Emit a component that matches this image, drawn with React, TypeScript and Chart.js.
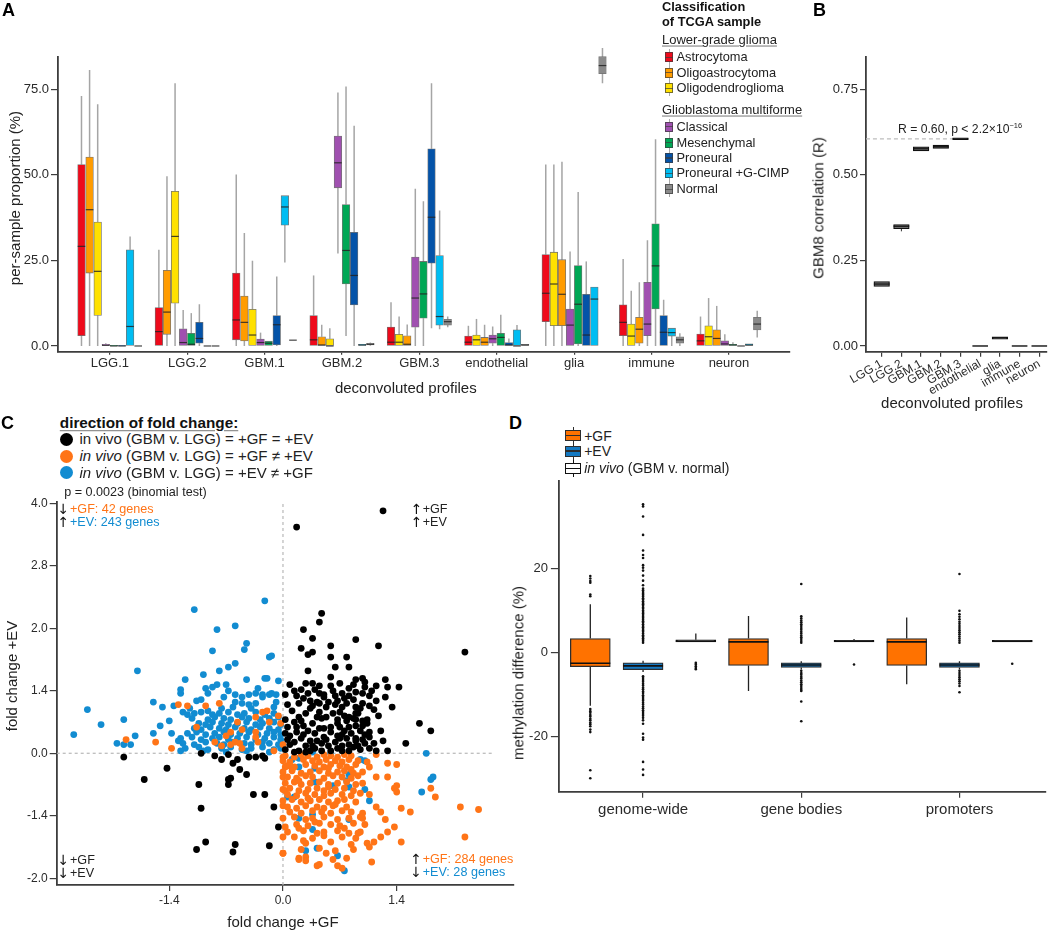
import React, { useEffect, useRef } from "react";
import { Chart, registerables } from "chart.js";

Chart.register(...registerables);

const FONT = "'Liberation Sans', Arial, Helvetica, sans-serif";
Chart.defaults.font.family = FONT;
Chart.defaults.color = "#2a2a2a";

// ---------------- Panel A : per-sample proportion ----------------
const profileLabels = ["LGG.1", "LGG.2", "GBM.1", "GBM.2", "GBM.3", "endothelial", "glia", "immune", "neuron"];
const aTickValues = [0, 25, 50, 75];
const classNames = ["Astrocytoma", "Oligoastrocytoma", "Oligodendroglioma", "Classical", "Mesenchymal", "Proneural", "Proneural +G-CIMP", "Normal"];
const classColors = ["#EE0A1B", "#FF9C00", "#FFE100", "#A050B0", "#00A755", "#0453A8", "#00BDF2", "#8A8A8A"];
// each row: [lower whisker, Q1, median, Q3, upper whisker] for one profile
const astrocytoma = [[0, 3.0, 29.1, 53.0, 73.0], [0, 0, 4.2, 11.2, 28.1], [0, 1.8, 7.6, 21.3, 50.1], [0, 0, 1.8, 8.9, 20.6], [0, 0, 1.1, 5.5, 12.8], [0, 0, 1.1, 2.9, 5.9], [0, 7.1, 15.4, 26.7, 53.0], [0, 3.0, 6.9, 12.0, 25.4], [0, 0, 1.5, 3.5, 8.6]];
const oligoastrocytoma = [[0, 21.3, 39.8, 55.2, 80.6], [0, 3.4, 9.9, 22.1, 49.6], [0, 1.5, 6.9, 14.6, 33.0], [0, 0, 0.3, 2.7, 6.2], [0, 0, 0.5, 3.0, 6.3], [0, 0, 1.1, 2.5, 6.2], [0, 5.9, 15.1, 25.2, 53.8], [0, 0.8, 4.9, 8.4, 18.6], [0, 0, 2.2, 4.7, 11.7]];
const oligodendroglioma = [[0, 8.9, 21.8, 36.2, 70.6], [0, 12.5, 32.0, 45.2, 76.7], [0, 0, 3.2, 10.7, 24.9], [0, 0, 0, 2.1, 5.2], [0, 0, 1.1, 3.4, 8.6], [0, 0, 1.8, 3.2, 7.9], [0, 5.9, 18.1, 27.4, 53.0], [0, 0, 2.9, 6.4, 16.1], [0, 0, 2.7, 5.9, 14.0]];
const classical = [[0, 0, 0.2, 0.5, 0.8], [0, 0, 1.0, 5.0, 10.5], [0, 0, 1.0, 2.0, 3.9], [27.0, 46.2, 53.5, 61.3, 74.0], [0, 5.5, 14.0, 26.0, 45.9], [0, 0.8, 2.1, 3.2, 5.7], [0, 0, 6.1, 10.8, 27.6], [0, 3.0, 6.4, 18.6, 30.9], [0, 0, 0.6, 1.5, 3.4]];
const mesenchymal = [[0, 0, 0, 0.1, 0.1], [0, 0, 0.5, 3.7, 9.6], [0, 0, 0.8, 1.4, 1.4], [2.9, 18.1, 27.9, 41.3, 75.8], [0, 8.1, 15.2, 24.7, 42.3], [0, 0, 2.5, 3.7, 9.1], [0, 0.6, 12.2, 23.5, 45.0], [0, 10.8, 23.4, 35.7, 60.4], [0, 0, 0.3, 0.5, 1.1]];
const proneural = [[0, 0, 0, 0.2, 0.2], [0, 0.8, 2.2, 6.9, 12.2], [0, 0.3, 6.2, 8.9, 20.3], [0, 12.0, 20.6, 33.2, 64.3], [5.2, 24.2, 37.6, 57.6, 76.7], [0, 0, 0.3, 1.0, 2.2], [0, 0, 3.2, 15.1, 24.7], [0, 0, 4.0, 8.9, 13.5], [0, 0, 0, 0, 0]];
const proneuralGcimp = [[0, 0, 5.7, 28.1, 32.0], [0, 0, 0, 0, 0], [24.4, 35.3, 40.6, 43.9, 43.9], [0, 0, 0.3, 0.5, 0.5], [4.9, 6.1, 8.6, 26.4, 39.6], [0, 0, 0, 4.7, 6.1], [0, 0, 13.7, 17.2, 17.2], [0, 2.9, 3.9, 5.2, 5.2], [0, 0, 0.3, 0.6, 0.6]];
const normalTissue = [[0, 0, 0, 0, 0], [0, 0, 0, 0, 0], [1.7, 1.7, 1.7, 1.7, 1.7], [0.1, 0.3, 0.5, 0.8, 1.0], [5.5, 6.1, 7.1, 7.8, 8.6], [0.2, 0.2, 0.3, 0.5, 0.5], [76.7, 79.5, 81.9, 84.5, 87.0], [0, 0.8, 1.8, 2.7, 3.7], [2.5, 4.7, 6.4, 8.4, 10.3]];
const classStats = [astrocytoma, oligoastrocytoma, oligodendroglioma, classical, mesenchymal, proneural, proneuralGcimp, normalTissue];
// in these profiles the oligodendroglioma box is drawn before the oligoastrocytoma box
const oligoOrderSwapped = [false, false, false, false, true, true, true, true, true];

// ---------------- Panel B : GBM8 correlation ----------------
const gbm8Correlation = [[0.174, 0.174, 0.181, 0.188, 0.188], [0.335, 0.343, 0.35, 0.355, 0.355], [0.57, 0.57, 0.576, 0.582, 0.582], [0.577, 0.577, 0.582, 0.587, 0.587], [0.603, 0.603, 0.605, 0.608, 0.608], [0, 0, 0, 0, 0], [0.02, 0.02, 0.024, 0.027, 0.027], [0, 0, 0, 0, 0], [0, 0, 0, 0, 0]];
const bTickValues = [0, 0.25, 0.5, 0.75];
const gbm8Overall = 0.605;

// ---------------- Panel C : fold change scatter (log2 units) ----------------
const cYTickValues = [-1, -0.5, 0, 0.5, 1, 1.5, 2];
const cYTickLabels = ["-2.0", "-1.4", "0.0", "1.4", "2.0", "2.8", "4.0"];
const cXTickValues = [-0.5, 0, 0.5];
const cXTickLabels = ["-1.4", "0.0", "1.4"];

const concordant = [
  [0.44, 1.94], [0.06, 1.81], [0.17, 1.12], [0.16, 1.05], [0.09, 0.99], [0.13, 0.92], [0.32, 0.91], [0.42, 0.86], [0.08, 0.84], [0.21, 0.86], [0.11, 0.79], [0.13, 0.81], [0.8, 0.81], [0.21, 0.77], [0.28, 0.77], [0.23, 0.69], [0.29, 0.69], [0.11, 0.66], [0.32, 0.59], [0.45, 0.59], [0.21, 0.61], [0.35, 0.6],
  [0.05, 0.5], [0.08, 0.51], [0.13, 0.56], [0.16, 0.54], [0.16, 0.48], [0.18, 0.45], [0.15, 0.41], [0.12, 0.42], [0.19, 0.37], [0.1, 0.32], [0.07, 0.29], [0.05, 0.25], [0.02, 0.21], [0.03, 0.14], [0.05, 0.09], [0.07, 0.02], [0.1, 0.06], [0.12, 0.1], [0.11, 0.18], [0.13, 0.24], [0.15, 0.29], [0.16, 0.33], [0.19, 0.29], [0.22, 0.32], [0.25, 0.33], [0.27, 0.3], [0.29, 0.29], [0.32, 0.32], [0.35, 0.26], [0.34, 0.18], [0.32, 0.12], [0.31, 0.05], [0.29, 0.02], [0.26, 0.06], [0.23, 0.09], [0.2, 0.06], [0.18, 0.13], [0.18, 0.2], [0.21, 0.21], [0.24, 0.24], [0.27, 0.18], [0.29, 0.21], [0.32, 0.22], [0.24, 0.14], [0.28, 0.12], [0.21, 0.02], [0.17, 0.02], [0.14, 0.04], [0.1, 0.01], [0.05, 0.01], [0.36, 0.08], [0.38, 0.04], [0.39, 0.5], [0.41, 0.42], [0.45, 0.45], [0.48, 0.37], [0.51, 0.53], [0.46, 0.53], [0.36, 0.57], [0.32, 0.49], [0.29, 0.52], [0.26, 0.48], [0.23, 0.46], [0.38, 0.13], [0.44, 0.1], [0.46, 0.02], [0.54, 0.08], [0.6, 0.24], [0.65, 0.18], [0.24, 0.42], [0.28, 0.4], [0.32, 0.37], [0.36, 0.53], [0.37, 0.24], [0.38, 0.17], [0.33, 0.32], [0.32, 0.27],
  [0.03, 0.55], [0.1, 0.56], [0.21, 0.54], [0.25, 0.56], [0.31, 0.55], [0.41, 0.54], [0.01, 0.47], [0.06, 0.46], [0.11, 0.48], [0.18, 0.47], [0.29, 0.46], [0.35, 0.48], [0.38, 0.46], [0.02, 0.39], [0.07, 0.4], [0.13, 0.38], [0.16, 0.4], [0.23, 0.39], [0.26, 0.37], [0.35, 0.4], [0.38, 0.38],
  [0.01, 0.27], [0.08, 0.26], [0.17, 0.28], [0.24, 0.27], [0.28, 0.26], [0.31, 0.28], [0.37, 0.27], [0.06, 0.21], [0.09, 0.22], [0.16, 0.2], [0.25, 0.21], [0.35, 0.22], [0.01, 0.16], [0.06, 0.17], [0.09, 0.15], [0.14, 0.16], [0.21, 0.17], [0.26, 0.15], [0.3, 0.16], [0.36, 0.15],
  [0.02, 0.11], [0.08, 0.12], [0.15, 0.1], [0.19, 0.11], [0.25, 0.12], [0.32, 0.1], [0.35, 0.11], [0.03, 0.07], [0.13, 0.06], [0.17, 0.08], [0.29, 0.07], [0.33, 0.06], [0.01, 0.03], [0.12, 0.02], [0.24, 0.04], [0.26, 0.02], [0.34, 0.03], [0.41, 0.02],
  [0.04, 0.34], [0.12, 0.36], [0.2, 0.41], [0.27, 0.44], [0.34, 0.36], [0.42, 0.3], [0.09, 0.44], [0.14, 0.51], [0.22, 0.5], [0.31, 0.43], [0.4, 0.35], [0.43, 0.18], [0.4, 0.08],
  [-0.7, -0.03], [-0.51, -0.12], [-0.61, -0.21], [-0.37, -0.25], [-0.36, -0.44], [-0.13, -0.33], [-0.08, -0.33], [-0.04, -0.43], [-0.02, -0.59], [-0.38, -0.77], [-0.34, -0.71], [-0.22, -0.79], [-0.21, -0.73], [-0.06, -0.74], [-0.36, 0.0], [-0.3, -0.02], [-0.27, -0.05], [-0.24, -0.01], [-0.22, -0.08], [-0.2, -0.05], [-0.19, -0.13], [-0.24, -0.21], [-0.23, -0.2], [-0.24, -0.25], [-0.16, -0.17], [-0.15, -0.03], [-0.12, -0.03], [-0.09, -0.02], [-0.08, -0.04],
];

const gfAgree = [
  [-0.46, 0.39], [-0.42, 0.38], [-0.34, 0.38], [-0.28, 0.4], [-0.69, 0.11], [-0.56, 0.09], [-0.49, 0.04], [-0.38, 0.21], [-0.3, 0.09], [-0.27, 0.06], [-0.25, 0.14], [-0.23, 0.17], [-0.2, 0.25], [-0.18, 0.19], [-0.18, 0.04], [-0.12, 0.29], [-0.12, 0.17], [-0.12, 0.13], [-0.11, 0.09], [-0.09, 0.33], [-0.07, 0.34], [-0.06, 0.25], [-0.04, 0.02], [-0.02, 0.3], [-0.01, 0.24], [0.0, 0.07], [-0.21, 0.09], [-0.19, 0.08], [-0.23, 0.07],
  [0.0, -0.03], [0.01, -0.11], [0.0, -0.19], [0.01, -0.3], [0.0, -0.42], [0.01, -0.59], [0.0, -0.67], [0.0, -0.8],
  [0.01, -0.02], [0.05, -0.03], [0.08, -0.01], [0.11, -0.02], [0.15, -0.03], [0.18, -0.01], [0.21, -0.02], [0.24, -0.03], [0.27, -0.01], [0.3, -0.02],
  [0.0, -0.06], [0.03, -0.07], [0.09, -0.05], [0.13, -0.06], [0.16, -0.07], [0.19, -0.05], [0.23, -0.06], [0.26, -0.07], [0.29, -0.05], [0.33, -0.06],
  [0.02, -0.1], [0.05, -0.11], [0.1, -0.09], [0.14, -0.1], [0.18, -0.11], [0.21, -0.09], [0.25, -0.1], [0.28, -0.11], [0.32, -0.09],
  [0.0, -0.15], [0.04, -0.14], [0.08, -0.16], [0.12, -0.15], [0.16, -0.14], [0.2, -0.16], [0.24, -0.15], [0.27, -0.14], [0.31, -0.16], [0.35, -0.15],
  [0.02, -0.19], [0.06, -0.2], [0.1, -0.18], [0.13, -0.19], [0.18, -0.2], [0.22, -0.18], [0.26, -0.19], [0.3, -0.2], [0.33, -0.18],
  [0.01, -0.24], [0.05, -0.23], [0.08, -0.25], [0.12, -0.24], [0.16, -0.23], [0.2, -0.25], [0.24, -0.24], [0.28, -0.23], [0.32, -0.25], [0.35, -0.24],
  [0.0, -0.29], [0.03, -0.28], [0.07, -0.3], [0.11, -0.29], [0.15, -0.28], [0.18, -0.3], [0.23, -0.29], [0.27, -0.28], [0.31, -0.3],
  [0.02, -0.33], [0.06, -0.34], [0.1, -0.32], [0.14, -0.33], [0.18, -0.34], [0.21, -0.32], [0.26, -0.33], [0.3, -0.34], [0.34, -0.32],
  [0.0, -0.38], [0.04, -0.37], [0.08, -0.39], [0.12, -0.38], [0.16, -0.37], [0.2, -0.39], [0.24, -0.38], [0.27, -0.37], [0.32, -0.39],
  [0.02, -0.43], [0.06, -0.44], [0.1, -0.42], [0.15, -0.43], [0.18, -0.44], [0.22, -0.42], [0.28, -0.43],
  [0.03, -0.47], [0.08, -0.48], [0.13, -0.46], [0.17, -0.47], [0.21, -0.48], [0.26, -0.46], [0.3, -0.47], [0.35, -0.48],
  [0.0, -0.52], [0.05, -0.51], [0.1, -0.53], [0.13, -0.52], [0.18, -0.51], [0.24, -0.53], [0.29, -0.52], [0.34, -0.51],
  [0.06, -0.57], [0.11, -0.58], [0.16, -0.56], [0.21, -0.57], [0.25, -0.58], [0.31, -0.56], [0.36, -0.57],
  [0.02, -0.63], [0.09, -0.62], [0.15, -0.64], [0.18, -0.63], [0.24, -0.62], [0.29, -0.64], [0.34, -0.63],
  [0.05, -0.67], [0.13, -0.68], [0.18, -0.66], [0.26, -0.67], [0.32, -0.68],
  [0.1, -0.72], [0.21, -0.71], [0.3, -0.73], [0.37, -0.72], [0.4, -0.71],
  [0.08, -0.77], [0.16, -0.76], [0.23, -0.78], [0.31, -0.77], [0.0, -0.8], [0.07, -0.84], [0.1, -0.83], [0.22, -0.85], [0.28, -0.84], [0.39, -0.87], [0.16, -0.89], [0.24, -0.9], [0.26, -0.92],
  [0.37, -0.07], [0.41, -0.01], [0.38, -0.11], [0.41, -0.19], [0.46, -0.08], [0.5, -0.09], [0.46, -0.19], [0.49, -0.28], [0.5, -0.26], [0.5, -0.31], [0.52, -0.44], [0.56, -0.47], [0.65, -0.28], [0.67, -0.35], [0.78, -0.43], [0.86, -0.45], [0.8, -0.67], [0.52, -0.71], [0.49, -0.59], [0.46, -0.63], [0.43, -0.47], [0.45, -0.53], [0.38, -0.33], [0.41, -0.43], [0.35, -0.52], [0.33, -0.64], [0.38, -0.75], [0.43, -0.67],
  [0.07, -0.85], [0.1, -0.86], [0.15, -0.9],
  [0.04, -0.12], [0.07, -0.22], [0.11, -0.36], [0.2, -0.27], [0.23, -0.41], [0.14, -0.55], [0.07, -0.6], [0.27, -0.6], [0.2, -0.12], [0.3, -0.13], [0.09, -0.7], [0.19, -0.8],
];

const evAgree = [
  [-0.08, 1.22], [-0.39, 1.15], [-0.21, 1.02], [-0.29, 0.99], [-0.16, 0.88], [-0.31, 0.82], [-0.17, 0.83], [-0.06, 0.77], [-0.05, 0.78], [-0.21, 0.72], [-0.24, 0.69], [-0.28, 0.66], [-0.64, 0.66], [-0.35, 0.63], [-0.43, 0.59], [-0.16, 0.59], [-0.08, 0.6], [-0.07, 0.6], [-0.02, 0.58],
  [-0.92, 0.15], [-0.86, 0.35], [-0.8, 0.23], [-0.7, 0.27], [-0.65, 0.14], [-0.73, 0.08], [-0.7, 0.07], [-0.67, 0.07], [-0.57, 0.41], [-0.53, 0.37], [-0.48, 0.38], [-0.57, 0.16], [-0.54, 0.22], [-0.5, 0.26], [-0.49, 0.16], [-0.46, 0.1], [-0.45, 0.48], [-0.45, 0.51], [-0.44, 0.33], [-0.42, 0.31], [-0.36, 0.43], [-0.34, 0.52], [-0.33, 0.48], [-0.31, 0.53], [-0.29, 0.55], [-0.25, 0.55], [-0.21, 0.47], [-0.18, 0.45], [-0.15, 0.47], [-0.12, 0.48], [-0.09, 0.47], [-0.05, 0.48], [-0.03, 0.47], [-0.21, 0.41], [-0.18, 0.4], [-0.15, 0.39], [-0.12, 0.4], [-0.09, 0.45], [-0.06, 0.47],
  [-0.39, 0.32], [-0.36, 0.33], [-0.31, 0.31], [-0.28, 0.32], [-0.24, 0.33], [-0.2, 0.31], [-0.17, 0.32], [-0.12, 0.33], [-0.08, 0.31], [-0.04, 0.32],
  [-0.4, 0.28], [-0.33, 0.27], [-0.3, 0.29], [-0.26, 0.28], [-0.23, 0.27], [-0.18, 0.29], [-0.15, 0.28], [-0.1, 0.27], [-0.06, 0.28], [-0.02, 0.29],
  [-0.37, 0.24], [-0.34, 0.23], [-0.31, 0.25], [-0.27, 0.24], [-0.24, 0.23], [-0.2, 0.24], [-0.16, 0.25], [-0.12, 0.23], [-0.09, 0.24], [-0.04, 0.25], [-0.01, 0.23],
  [-0.39, 0.2], [-0.36, 0.19], [-0.32, 0.21], [-0.28, 0.2], [-0.25, 0.19], [-0.21, 0.21], [-0.17, 0.2], [-0.14, 0.19], [-0.1, 0.21], [-0.06, 0.2], [-0.02, 0.19],
  [-0.42, 0.16], [-0.38, 0.17], [-0.34, 0.15], [-0.3, 0.16], [-0.26, 0.17], [-0.23, 0.15], [-0.19, 0.16], [-0.15, 0.17], [-0.11, 0.15], [-0.07, 0.16], [-0.04, 0.17], [-0.01, 0.15],
  [-0.45, 0.12], [-0.4, 0.13], [-0.36, 0.11], [-0.31, 0.12], [-0.28, 0.13], [-0.24, 0.11], [-0.2, 0.12], [-0.16, 0.13], [-0.12, 0.11], [-0.08, 0.12], [-0.04, 0.13], [-0.01, 0.11],
  [-0.44, 0.08], [-0.39, 0.07], [-0.34, 0.09], [-0.29, 0.08], [-0.26, 0.07], [-0.22, 0.09], [-0.17, 0.08], [-0.14, 0.07], [-0.09, 0.09], [-0.06, 0.08], [-0.02, 0.07],
  [-0.43, 0.04], [-0.37, 0.05], [-0.33, 0.03], [-0.27, 0.04], [-0.23, 0.05], [-0.18, 0.03], [-0.14, 0.04], [-0.09, 0.05], [-0.04, 0.03], [-0.01, 0.04],
  [-0.45, 0.02], [-0.35, 0.02], [-0.25, 0.01], [-0.16, 0.02], [-0.06, 0.01],
  [-0.41, 0.36], [-0.38, 0.42], [-0.27, 0.36], [-0.22, 0.37], [-0.14, 0.36], [-0.04, 0.37], [-0.03, 0.41], [-0.26, 0.45], [-0.33, 0.34], [-0.11, 0.52], [-0.24, 0.5],
  [0.63, 0.0], [0.13, 0.01], [0.21, 0.0], [0.04, -0.05], [0.07, -0.04], [0.34, -0.05], [0.36, -0.06], [0.07, -0.11], [0.29, -0.17], [0.14, -0.12], [0.14, -0.23], [0.22, -0.26], [0.28, -0.22], [0.29, -0.27], [0.36, -0.29], [0.38, -0.38], [0.02, -0.35], [0.05, -0.35], [0.65, -0.21], [0.66, -0.19], [0.61, -0.31], [0.07, -0.52], [0.13, -0.49], [0.29, -0.53], [0.13, -0.61], [0.1, -0.78], [0.15, -0.76], [0.24, -0.82], [0.27, -0.94],
];

// ---------------- Panel D : methylation difference ----------------
const regionLabels = ["genome-wide", "gene bodies", "promoters"];
const dTickValues = [-20, 0, 20];
const gfStats = [[-12.6, -3.3, -2.5, 3.4, 11.6], [-9.1, -3.0, 2.6, 3.4, 8.8], [-7.5, -3.0, 2.6, 3.4, 8.4]];
const evStats = [[-4.6, -4.0, -3.1, -2.4, -1.9], [-4.0, -3.5, -2.9, -2.4, -2.0], [-4.0, -3.5, -2.9, -2.4, -2.0]];
const vivoStats = [[2.6, 2.6, 2.8, 3.1, 4.6], [2.6, 2.6, 2.8, 3.0, 3.3], [2.6, 2.6, 2.8, 3.0, 3.0]];
const gfOutliers = [
  [18.3, 17.7, 17.1, 16.7, 13.9, 13.5, -13.4, -13.9, -14.3, -14.8, -15.2, -15.7, -16.1, -16.6, -17.0, -17.5, -18.3, -18.9, -28.0, -29.9],
  [],
  [],
];
const evOutliers = [
  [2.4, 2.8, 3.1, 3.5, 3.9, 4.2, 4.6, 5.0, 5.3, 5.7, 6.1, 6.4, 6.8, 7.2, 7.5, 7.9, 8.3, 8.6, 9.0, 9.4, 9.7, 10.1, 10.5, 10.8, 11.2, 11.6, 11.9, 12.3, 12.7, 13.0, 13.4, 13.8, 14.1, 14.5, 14.9, 15.3, 16.1, 17.2, 18.4, 19.6, 20.3, 20.9, 22.6, 23.3, 24.4, 28.1, 32.5, 34.9, 35.4,
    -5.6, -6.0, -6.5, -6.9, -7.4, -7.8, -8.3, -8.7, -9.2, -9.6, -10.1, -10.5, -11.0, -11.4, -11.9, -12.3, -12.8, -13.2, -13.7, -14.1, -14.6, -15.0, -15.5, -16.1, -16.9, -19.3, -20.2, -20.7, -26.0, -27.8, -29.1],
  [2.4, 2.8, 3.3, 3.7, 4.1, 4.6, 5.0, 5.5, 5.9, 6.4, 6.8, 7.3, 7.7, 8.2, 8.7, 16.4, -4.3, -4.8, -5.2, -5.7, -6.1, -6.6, -7.0, -7.5, -7.9, -8.4, -8.8, -9.1, -11.6, -16.3],
  [2.4, 2.9, 3.4, 3.9, 4.4, 4.9, 5.4, 5.9, 6.4, 6.9, 7.4, 8.0, 8.6, 9.2, 10.0, 18.8, -4.3, -4.8, -5.3, -5.8, -6.3, -6.8, -7.3, -7.9, -9.4],
];
const vivoOutliers = [[-2.4, -2.8, -3.2, -3.6, -3.9], [-2.8], [-2.6]];

const ORANGE = "#FF7417";
const BLUE = "#128CD1";
const AXIS = "#3d3d3d";

// ---------- box-plot helper plugin (whiskers & medians through the scales) ----------
function drawBoxParts(chart: any, phase: string) {
  const yScale = chart.scales.y;
  const ctx = chart.ctx;
  chart.data.datasets.forEach((ds: any, di: number) => {
    if (!ds.stats) return;
    const meta = chart.getDatasetMeta(di);
    meta.data.forEach((el: any, i: number) => {
      const s = ds.stats[i];
      if (!s) return;
      const { x, width } = el.getProps(["x", "width"], true);
      ctx.save();
      if (phase === "whisker") {
        ctx.strokeStyle = ds.whiskerColor;
        ctx.lineWidth = ds.whiskerWidth;
        ctx.beginPath();
        ctx.moveTo(x, yScale.getPixelForValue(s[3]));
        ctx.lineTo(x, yScale.getPixelForValue(s[4]));
        ctx.moveTo(x, yScale.getPixelForValue(s[1]));
        ctx.lineTo(x, yScale.getPixelForValue(s[0]));
        ctx.stroke();
      } else {
        const ym = yScale.getPixelForValue(s[2]);
        ctx.strokeStyle = ds.medianColor;
        ctx.lineWidth = ds.medianWidth;
        ctx.beginPath();
        ctx.moveTo(x - width / 2, ym);
        ctx.lineTo(x + width / 2, ym);
        ctx.stroke();
      }
      ctx.restore();
    });
  });
}
const boxPlugin = {
  id: "boxWhiskers",
  beforeDatasetsDraw(chart: any) { drawBoxParts(chart, "whisker"); },
  afterDatasetsDraw(chart: any) { drawBoxParts(chart, "median"); },
};

function axisBase(size: number) {
  return {
    grid: { display: true, offset: false, drawOnChartArea: false, drawTicks: true, color: AXIS, lineWidth: 1.2 },
    border: { display: true, color: AXIS, width: 1.8 },
    ticks: { font: { size }, color: "#2a2a2a", autoSkip: false },
  };
}

function makeA() {
  const slotW = 0.1047;
  const datasets = classStats.map((stats, k) => {
    const pts: any[] = [];
    stats.forEach((s, i) => {
      let slot = k;
      if (oligoOrderSwapped[i] && k === 1) slot = 2;
      else if (oligoOrderSwapped[i] && k === 2) slot = 1;
      pts.push({ x: i + (slot - 3.5) * slotW, y: [s[1], s[3]] });
    });
    return {
      type: "bar", label: classNames[k], data: pts, stats,
      backgroundColor: classColors[k], borderColor: "rgba(70,70,70,0.75)", borderWidth: 0.8, borderSkipped: false,
      barThickness: 7.6, grouped: false, clip: false,
      whiskerColor: "#a5a5a5", whiskerWidth: 1.5, medianColor: "rgba(35,35,35,0.85)", medianWidth: 1.2,
    };
  });
  const bx = axisBase(13), by = axisBase(13);
  return {
    type: "bar",
    data: { datasets },
    plugins: [boxPlugin],
    options: {
      animation: false, responsive: false, events: [],
      layout: { padding: { top: 57, right: 10, left: 0, bottom: 0 } },
      plugins: { legend: { display: false }, tooltip: { enabled: false } },
      scales: {
        x: {
          type: "linear", min: -0.67, max: 8.79, offset: false,
          afterFit: (s: any) => { s.height = 48.3; },
          afterBuildTicks: (s: any) => { s.ticks = profileLabels.map((_, i) => ({ value: i })); },
          ticks: { ...bx.ticks, padding: 1, maxRotation: 0, callback: (v: any) => profileLabels[v] },
          grid: { ...bx.grid, tickLength: 3 }, border: bx.border,
        },
        y: {
          type: "linear", min: -1.67, max: 84.4,
          afterFit: (s: any) => { s.width = 58; },
          afterBuildTicks: (s: any) => { s.ticks = aTickValues.map((v) => ({ value: v })); },
          ticks: { ...by.ticks, padding: 2, callback: (v: any) => Number(v).toFixed(1) },
          grid: { ...by.grid, tickLength: 7 }, border: by.border,
        },
      },
    },
  };
}

function makeB() {
  const bx = axisBase(12), by = axisBase(13);
  return {
    type: "bar",
    data: {
      datasets: [
        {
          type: "bar", data: gbm8Correlation.map((s, i) => ({ x: i, y: [s[1], s[3]] })), stats: gbm8Correlation,
          backgroundColor: "#8e8e8e", borderColor: "#111", borderWidth: 1.2, borderSkipped: false,
          barThickness: 15.6, grouped: false, whiskerColor: "#333", whiskerWidth: 1, medianColor: "#111", medianWidth: 1.4,
        },
        {
          type: "line", data: [{ x: -0.8, y: gbm8Overall }, { x: 4, y: gbm8Overall }],
          borderColor: "#bdbdbd", borderWidth: 1.2, borderDash: [4, 3], pointRadius: 0,
        },
      ],
    },
    plugins: [boxPlugin],
    options: {
      animation: false, responsive: false, events: [],
      layout: { padding: { top: 57.3, right: 3.3, left: 0, bottom: 0 } },
      plugins: { legend: { display: false }, tooltip: { enabled: false } },
      scales: {
        x: {
          type: "linear", min: -0.797, max: 8.376, offset: false,
          afterFit: (s: any) => { s.height = 68.3; },
          afterBuildTicks: (s: any) => { s.ticks = profileLabels.map((_, i) => ({ value: i })); },
          ticks: { ...bx.ticks, padding: 0, minRotation: 30, maxRotation: 30, callback: (v: any) => profileLabels[v] },
          grid: { ...bx.grid, tickLength: 5 }, border: bx.border,
        },
        y: {
          type: "linear", min: -0.0167, max: 0.8434,
          afterFit: (s: any) => { s.width = 66; },
          afterBuildTicks: (s: any) => { s.ticks = bTickValues.map((v) => ({ value: v })); },
          ticks: { ...by.ticks, padding: 2, callback: (v: any) => Number(v).toFixed(2) },
          grid: { ...by.grid, tickLength: 6 }, border: by.border,
        },
      },
    },
  };
}

function makeC() {
  const toPts = (arr: number[][]) => arr.map(([x, y]) => ({ x, y }));
  const pointDs = (arr: number[][], color: string) => ({
    data: toPts(arr), pointRadius: 3.4, pointBackgroundColor: color, pointBorderWidth: 0, showLine: false,
  });
  const bx = axisBase(12), by = axisBase(12);
  return {
    type: "scatter",
    data: {
      datasets: [
        pointDs(concordant, "#000"),
        pointDs(gfAgree, ORANGE),
        pointDs(evAgree, BLUE),
        { data: [{ x: -0.995, y: 0 }, { x: 0.93, y: 0 }], showLine: true, borderColor: "#b8b8b8", borderWidth: 1.2, borderDash: [3, 3], pointRadius: 0 },
        { data: [{ x: 0, y: -1.054 }, { x: 0, y: 2.013 }], showLine: true, borderColor: "#b8b8b8", borderWidth: 1.2, borderDash: [3, 3], pointRadius: 0 },
      ],
    },
    options: {
      animation: false, responsive: false, events: [],
      layout: { padding: { top: 21.7, right: 16.2, left: 0, bottom: 0 } },
      plugins: { legend: { display: false }, tooltip: { enabled: false } },
      scales: {
        x: {
          type: "linear", min: -0.995, max: 1.015,
          afterFit: (s: any) => { s.height = 46; },
          afterBuildTicks: (s: any) => { s.ticks = cXTickValues.map((v) => ({ value: v })); },
          ticks: { ...bx.ticks, padding: 2, maxRotation: 0, callback: (v: any) => cXTickLabels[cXTickValues.indexOf(v)] },
          grid: { ...bx.grid, tickLength: 6 }, border: bx.border,
        },
        y: {
          type: "linear", min: -1.054, max: 2.013,
          afterFit: (s: any) => { s.width = 56.7; },
          afterBuildTicks: (s: any) => { s.ticks = cYTickValues.map((v) => ({ value: v })); },
          ticks: { ...by.ticks, padding: 2, callback: (v: any) => cYTickLabels[cYTickValues.indexOf(v)] },
          grid: { ...by.grid, tickLength: 7 }, border: by.border,
        },
      },
    },
  };
}

function makeD() {
  const off = 0.3335;
  const boxDs = (stats: number[][], shift: number, fill: string, border: string, bw: number) => ({
    type: "bar", data: stats.map((s, i) => ({ x: i + shift, y: [s[1], s[3]] })), stats,
    backgroundColor: fill, borderColor: border, borderWidth: bw, borderSkipped: false,
    barThickness: 40, grouped: false, whiskerColor: "#222", whiskerWidth: 1.3, medianColor: "#111", medianWidth: 1.6,
  });
  const outDs = (groups: number[][], shift: number) => {
    const pts: any[] = [];
    groups.forEach((g, i) => g.forEach((v) => pts.push({ x: i + shift, y: v })));
    return { type: "scatter", data: pts, pointRadius: 1.3, pointBackgroundColor: "#111", pointBorderWidth: 0 };
  };
  const bx = axisBase(15), by = axisBase(13);
  return {
    type: "bar",
    data: {
      datasets: [
        outDs(gfOutliers, -off), outDs(evOutliers, 0), outDs(vivoOutliers, off),
        boxDs(gfStats, -off, "#FF7200", "#2e2e2e", 1.3),
        boxDs(evStats, 0, "#1479C2", "#2e2e2e", 1.3),
        boxDs(vivoStats, off, "#ffffff", "#111", 2),
      ],
    },
    plugins: [boxPlugin],
    options: {
      animation: false, responsive: false, events: [],
      layout: { padding: { top: 8.3, right: 2, left: 0, bottom: 0 } },
      plugins: { legend: { display: false }, tooltip: { enabled: false } },
      scales: {
        x: {
          type: "linear", min: -0.532, max: 2.547, offset: false,
          afterFit: (s: any) => { s.height = 139.3; },
          afterBuildTicks: (s: any) => { s.ticks = regionLabels.map((_, i) => ({ value: i })); },
          ticks: { ...bx.ticks, padding: 3, maxRotation: 0, callback: (v: any) => regionLabels[v] },
          grid: { ...bx.grid, tickLength: 6 }, border: bx.border,
        },
        y: {
          type: "linear", min: -33.1, max: 41.0,
          afterFit: (s: any) => { s.width = 38.9; },
          afterBuildTicks: (s: any) => { s.ticks = dTickValues.map((v) => ({ value: v })); },
          ticks: { ...by.ticks, padding: 3, callback: (v: any) => String(v) },
          grid: { ...by.grid, tickLength: 8 }, border: by.border,
        },
      },
    },
  };
}

function ChartCanvas({ left, top, width, height, make }: any) {
  const ref = useRef<HTMLCanvasElement | null>(null);
  useEffect(() => {
    if (!ref.current) return;
    const chart = new Chart(ref.current, make());
    return () => chart.destroy();
  }, []);
  return <canvas ref={ref} width={width} height={height} style={{ position: "absolute", left, top, width, height }} />;
}

function T({ x, y, size = 13, bold = false, italic = false, color = "#222", anchor = "left", underline = false, rotate = false, family = FONT, children }: any) {
  const tx = anchor === "left" ? "0" : anchor === "center" ? "-50%" : "-100%";
  return (
    <div
      style={{
        position: "absolute", left: x, top: y,
        transform: `translate(${tx},-50%)${rotate ? " rotate(-90deg)" : ""}`,
        fontSize: size, fontWeight: bold ? 700 : 400, fontStyle: italic ? "italic" : "normal",
        color, whiteSpace: "nowrap", lineHeight: 1.15, fontFamily: family,
        textDecoration: underline ? "underline" : "none", textDecorationColor: "#777", textUnderlineOffset: 2,
      }}
    >
      {children}
    </div>
  );
}

function Arrow({ x, y, up }: any) {
  return <T x={x} y={y} size={14} anchor="center" color="#111" family="'DejaVu Sans', sans-serif">{up ? "↑" : "↓"}</T>;
}

function BoxGlyph({ x, y, w, h, color, border, whisker }: any) {
  return (
    <div style={{ position: "absolute", left: x, top: y - h / 2 - 3, width: w, height: h + 6 }}>
      <div style={{ position: "absolute", left: w / 2 - 0.5, top: 0, width: 1, height: h + 6, background: whisker }} />
      <div style={{ position: "absolute", left: 0, top: 3, width: w, height: h, background: color, border: `1px solid ${border}`, boxSizing: "border-box" }} />
      <div style={{ position: "absolute", left: 0, top: 3 + h / 2 - 0.6, width: w, height: 1.2, background: border }} />
    </div>
  );
}

function Dot({ x, y, color }: any) {
  return <div style={{ position: "absolute", left: x - 6.5, top: y - 6.5, width: 13, height: 13, borderRadius: "50%", background: color }} />;
}

export default function App() {
  const legendA = [
    { y: 57.3, k: 0 }, { y: 72.7, k: 1 }, { y: 88.3, k: 2 },
    { y: 126.7, k: 3 }, { y: 142.7, k: 4 }, { y: 158, k: 5 }, { y: 173.3, k: 6 }, { y: 189.3, k: 7 },
  ];
  return (
    <div style={{ position: "absolute", left: 0, top: 0, width: 1050, height: 931, background: "#fff", overflow: "hidden", fontFamily: FONT }}>
      <ChartCanvas left={0} top={0} width={800} height={400} make={makeA} />
      <ChartCanvas left={800} top={0} width={250} height={420} make={makeB} />
      <ChartCanvas left={0} top={480} width={530} height={451} make={makeC} />
      <ChartCanvas left={520} top={470} width={530} height={461} make={makeD} />

      {/* panel letters */}
      <T x={2} y={10} size={18} bold color="#000">A</T>
      <T x={813} y={10} size={18} bold color="#000">B</T>
      <T x={1} y={423} size={18} bold color="#000">C</T>
      <T x={509} y={423} size={18} bold color="#000">D</T>

      {/* Panel A titles & legend */}
      <T x={15.2} y={197.5} size={15} anchor="center" rotate>per-sample proportion (%)</T>
      <T x={405.8} y={388} size={15} anchor="center">deconvoluted profiles</T>
      <T x={662} y={7} size={12.8} bold color="#111">Classification</T>
      <T x={662} y={21.5} size={12.8} bold color="#111">of TCGA sample</T>
      <T x={662} y={40} size={13} underline>Lower-grade glioma</T>
      <T x={662} y={110} size={13} underline>Glioblastoma multiforme</T>
      {legendA.map((it) => (
        <React.Fragment key={it.k}>
          <BoxGlyph x={665} y={it.y} w={8} h={10} color={classColors[it.k]} border="rgba(60,60,60,0.7)" whisker="#aaa" />
          <T x={676.5} y={it.y} size={12.8}>{classNames[it.k]}</T>
        </React.Fragment>
      ))}

      {/* Panel B titles */}
      <T x={818.3} y={207.5} size={15} anchor="center" rotate>GBM8 correlation (R)</T>
      <T x={952} y={403} size={15} anchor="center">deconvoluted profiles</T>
      <T x={898} y={129} size={12.2}>R = 0.60, p &lt; 2.2×10<sup style={{ fontSize: 7.5 }}>−16</sup></T>

      {/* Panel C legend & annotations */}
      <T x={59.8} y={422.7} size={15.3} bold underline color="#111">direction of fold change:</T>
      <Dot x={66.6} y={439.3} color="#000" />
      <Dot x={66.6} y={456} color={ORANGE} />
      <Dot x={66.6} y={472.7} color={BLUE} />
      <T x={79.4} y={439.3} size={15}>in vivo (GBM v. LGG) = +GF = +EV</T>
      <T x={79.4} y={456} size={15}><i>in vivo</i> (GBM v. LGG) = +GF ≠ +EV</T>
      <T x={79.4} y={472.7} size={15}><i>in vivo</i> (GBM v. LGG) = +EV ≠ +GF</T>
      <T x={64.2} y={491.7} size={12.6}>p = 0.0023 (binomial test)</T>
      <Arrow x={63.3} y={509.3} />
      <T x={70} y={509.3} size={12.6} color={ORANGE}>+GF: 42 genes</T>
      <Arrow x={63.3} y={522.3} up />
      <T x={70} y={522.3} size={12.6} color={BLUE}>+EV: 243 genes</T>
      <Arrow x={416.7} y={509} up />
      <T x={422.7} y={509} size={12.6}>+GF</T>
      <Arrow x={416.7} y={521.7} up />
      <T x={422.7} y={521.7} size={12.6}>+EV</T>
      <Arrow x={63.3} y={860} />
      <T x={70} y={860} size={12.6}>+GF</T>
      <Arrow x={63.3} y={872.7} />
      <T x={70} y={872.7} size={12.6}>+EV</T>
      <Arrow x={416} y={859.3} up />
      <T x={422.7} y={859.3} size={12.6} color={ORANGE}>+GF: 284 genes</T>
      <Arrow x={416} y={872.3} />
      <T x={422.7} y={872.3} size={12.6} color={BLUE}>+EV: 28 genes</T>
      <T x={11.8} y={676} size={15} anchor="center" rotate>fold change +EV</T>
      <T x={283} y={921.7} size={15} anchor="center">fold change +GF</T>

      {/* Panel D legend & titles */}
      <BoxGlyph x={565} y={435.7} w={16} h={11} color="#FF7200" border="#2e2e2e" whisker="#2e2e2e" />
      <T x={584.2} y={435.7} size={14}>+GF</T>
      <BoxGlyph x={565} y={451} w={16} h={11} color="#1479C2" border="#2e2e2e" whisker="#2e2e2e" />
      <T x={584.2} y={451} size={14}>+EV</T>
      <BoxGlyph x={565} y={468.3} w={16} h={11} color="#ffffff" border="#111" whisker="#111" />
      <T x={584.2} y={468.3} size={14}><i>in vivo</i> (GBM v. normal)</T>
      <T x={518} y={673} size={15} anchor="center" rotate>methylation difference (%)</T>
    </div>
  );
}
